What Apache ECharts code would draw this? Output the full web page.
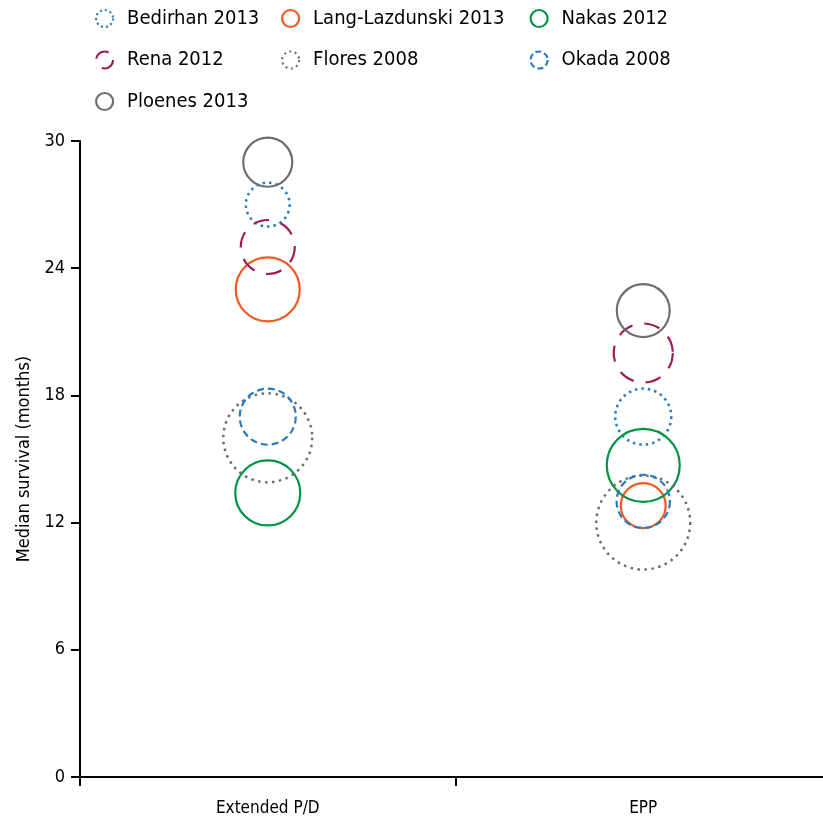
<!DOCTYPE html>
<html>
<head>
<meta charset="utf-8">
<script src="https://cdn.jsdelivr.net/npm/echarts@6/dist/echarts.min.js"></script>
<style>
html,body{margin:0;padding:0;background:#fff;overflow:hidden;width:823px;height:821px;}
#chart{width:832px;height:821px;}
</style>
</head>
<body>
<div id="chart"></div>
<script>
// ---- data ----
var categories = ['Extended P/D', 'EPP'];
var studies = ['Bedirhan 2013', 'Lang-Lazdunski 2013', 'Nakas 2012', 'Rena 2012', 'Flores 2008', 'Okada 2008', 'Ploenes 2013'];
// median survival (months): [Extended P/D, EPP]
var bedirhanSurvival = [27, 17];
var langSurvival = [23, 12.8];
var nakasSurvival = [13.4, 14.7];
var renaSurvival = [25, 20];
var floresSurvival = [16, 12];
var okadaSurvival = [17, 13];
var ploenesSurvival = [29, 22];
// relative study size (bubble weight): [Extended P/D, EPP]
var bedirhanWeight = [88, 141];
var langWeight = [182, 92];
var nakasWeight = [188, 235];
var renaWeight = [131, 156];
var floresWeight = [346, 385];
var okadaWeight = [141, 128];
var ploenesWeight = [109, 126];
var yTicks = [0, 6, 12, 18, 24, 30];

// ---- styles ----
var FONT = "'Liberation Sans Narrow', 'DejaVu Sans Condensed', 'Liberation Sans', sans-serif";
var styles = {
  'Bedirhan 2013': {color: '#2b7bc0', dash: [2.5, 4], width: 2.5, legendDash: [2, 3]},
  'Lang-Lazdunski 2013': {color: '#f15a22', dash: 'solid', width: 2.2, legendDash: 'solid'},
  'Nakas 2012': {color: '#009444', dash: 'solid', width: 2.2, legendDash: 'solid'},
  'Rena 2012': {color: '#9b1b5a', dash: [16, 12], width: 2.2, legendDash: [16, 12]},
  'Flores 2008': {color: '#6d6e71', dash: [2.5, 4.5], width: 2.5, legendDash: [2, 3.5]},
  'Okada 2008': {color: '#2b7bc0', dash: [7, 4], width: 2.2, legendDash: [6, 3]},
  'Ploenes 2013': {color: '#6d6e71', dash: 'solid', width: 2.2, legendDash: 'solid'}
};
var survivalByStudy = [bedirhanSurvival, langSurvival, nakasSurvival, renaSurvival, floresSurvival, okadaSurvival, ploenesSurvival];
var weightByStudy = [bedirhanWeight, langWeight, nakasWeight, renaWeight, floresWeight, okadaWeight, ploenesWeight];

var series = studies.map(function (name, i) {
  var st = styles[name];
  return {
    name: name,
    type: 'scatter',
    data: categories.map(function (c, j) { return [c, survivalByStudy[i][j], weightByStudy[i][j]]; }),
    symbol: 'circle',
    symbolSize: function (v) { return 4.89 * Math.sqrt(v[2]) - 2; },
    itemStyle: {color: 'rgba(0,0,0,0)', borderColor: st.color, borderWidth: st.width, borderType: st.dash, opacity: 1},
    emphasis: {disabled: true}
  };
});

function legendCol(left, names) {
  return {
    orient: 'vertical', left: left, top: 8.5, padding: 0,
    data: names.map(function (n) {
      var st = styles[n];
      return {name: n, icon: 'circle', itemStyle: {color: 'rgba(0,0,0,0)', borderColor: st.color, borderWidth: 2.2, borderType: st.legendDash}};
    }),
    itemGap: 21.5, itemWidth: 17, itemHeight: 17,
    textStyle: {fontFamily: FONT, fontSize: 20, lineHeight: 18, color: '#000', padding: [0, 0, 0, 9]},
    selectedMode: false
  };
}

var chart = echarts.init(document.getElementById('chart'), null, {renderer: 'canvas'});
chart.setOption({
  animation: false,
  backgroundColor: '#fff',
  legend: [
    legendCol(95, ['Bedirhan 2013', 'Rena 2012', 'Ploenes 2013']),
    legendCol(281, ['Lang-Lazdunski 2013', 'Flores 2008']),
    legendCol(529.5, ['Nakas 2012', 'Okada 2008'])
  ],
  grid: {left: 80, top: 141, right: 1, bottom: 44, containLabel: false},
  xAxis: {
    type: 'category', data: categories, boundaryGap: true,
    axisLine: {lineStyle: {color: '#000', width: 2}},
    axisTick: {show: true, length: 9, lineStyle: {color: '#000', width: 2}},
    axisLabel: {fontFamily: FONT, fontSize: 17, color: '#000', margin: 23},
    splitLine: {show: false}
  },
  yAxis: {
    type: 'value', min: yTicks[0], max: yTicks[yTicks.length - 1], interval: 6,
    name: 'Median survival (months)', nameLocation: 'middle', nameGap: 47,
    nameTextStyle: {fontFamily: FONT, fontSize: 18, color: '#000'},
    axisLine: {show: true, lineStyle: {color: '#000', width: 2}},
    axisTick: {show: true, length: 9, lineStyle: {color: '#000', width: 2}},
    axisLabel: {fontFamily: FONT, fontSize: 18, color: '#000', margin: 15},
    splitLine: {show: false}
  },
  series: series
});
</script>
</body>
</html>
